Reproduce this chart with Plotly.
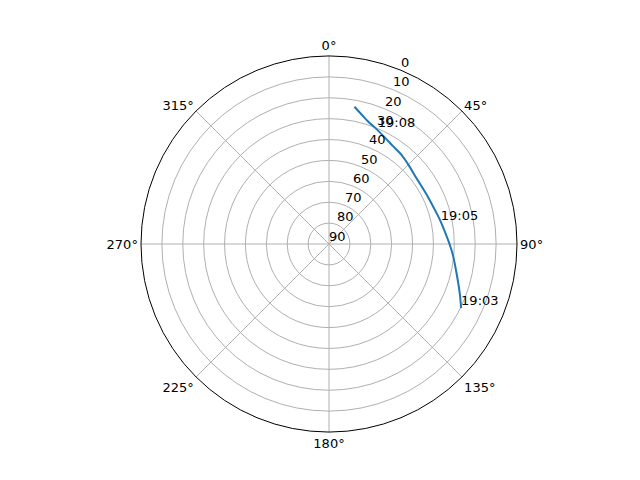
import plotly.graph_objects as go

# satellite pass: azimuth (deg, clockwise from north) and elevation (deg)
azimuth = [115.9, 110.5, 102.6, 95.0, 90.0, 84.0, 78.0, 73.0, 65.0, 59.0,
           52.0, 46.0, 39.0, 33.0, 27.6, 22.0, 18.0, 14.0, 10.5]
elevation = [19.7, 23.2, 27.5, 30.5, 32.3, 34.2, 35.6, 36.6, 37.5, 37.8,
             37.5, 36.5, 35.0, 34.0, 32.4, 30.3, 28.6, 26.0, 23.2]

# time labels along the track
label_text = ['19:03', '19:05', '19:08']
label_az = [115.9, 79.7, 23.2]
label_el = [19.7, 35.6, 30.7]

angle_ticks = [0, 45, 90, 135, 180, 225, 270, 315]
radial_ticks = [0, 10, 20, 30, 40, 50, 60, 70, 80, 90]
radial_label_angle = 22.5

fig = go.Figure()

fig.add_trace(go.Scatterpolar(
    r=elevation, theta=azimuth,
    mode='lines',
    line=dict(color='#1f77b4', width=2, shape='spline'),
    showlegend=False
))

fig.add_trace(go.Scatterpolar(
    r=label_el, theta=label_az,
    mode='text',
    text=label_text,
    textposition='top right',
    textfont=dict(color='black', size=13),
    showlegend=False
))

# radial tick labels, placed the matplotlib way at 22.5 deg
fig.add_trace(go.Scatterpolar(
    r=radial_ticks, theta=[radial_label_angle] * len(radial_ticks),
    mode='text',
    text=[str(v) for v in radial_ticks],
    textposition='top right',
    textfont=dict(color='black', size=13),
    cliponaxis=False,
    showlegend=False
))

fig.update_layout(
    width=640, height=480,
    margin=dict(l=0, r=0, t=0, b=0),
    paper_bgcolor='white',
    font=dict(family='DejaVu Sans', size=13, color='black'),
    polar=dict(
        domain=dict(x=[133 / 640, 509 / 640], y=[56 / 480, 432 / 480]),
        bgcolor='white',
        angularaxis=dict(
            rotation=90, direction='clockwise',
            tickvals=angle_ticks,
            ticktext=[f'{a}°' for a in angle_ticks],
            ticks='', showline=True, linecolor='black', linewidth=1,
            gridcolor='#b0b0b0', gridwidth=1
        ),
        radialaxis=dict(
            range=[90, 0], angle=67.5,
            tickvals=radial_ticks,
            showticklabels=False,
            ticks='', showline=False,
            gridcolor='#b0b0b0', gridwidth=1
        )
    )
)

fig.write_html('out.html')
